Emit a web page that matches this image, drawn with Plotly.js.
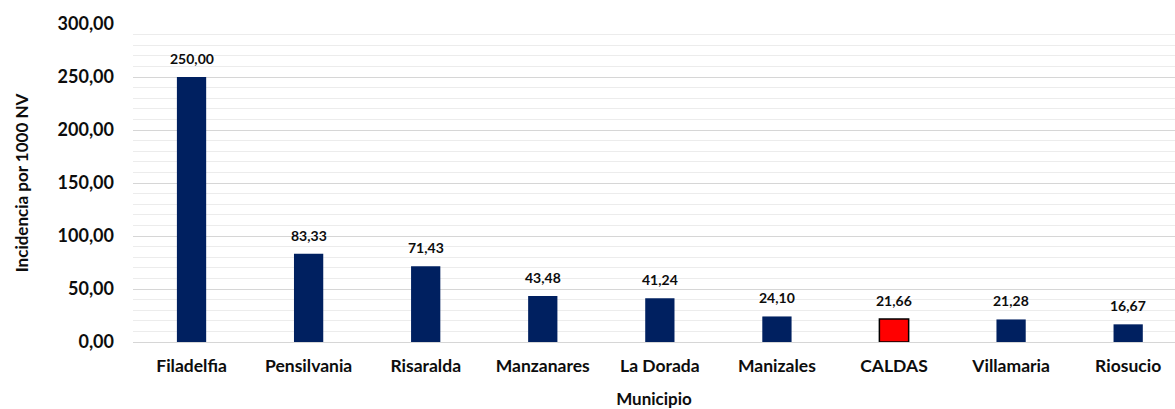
<!DOCTYPE html>
<html><head><meta charset="utf-8">
<script src="https://cdn.plot.ly/plotly-3.0.1.min.js"></script>
<style>html,body{margin:0;padding:0;background:#fff}#chart{width:1175px;height:409px}</style>
</head><body><div id="chart"></div>
<script>
const municipios = ["Filadelfia","Pensilvania","Risaralda","Manzanares","La Dorada","Manizales","CALDAS","Villamaria","Riosucio"];
const incidencia = [250.00, 83.33, 71.43, 43.48, 41.24, 24.10, 21.66, 21.28, 16.67];
const highlight = "CALDAS";

const FONT = "Lato, 'Liberation Sans', sans-serif";
const TXT = "#0d0d0d";
const colors = municipios.map(m => m === highlight ? "#ff0000" : "#002060");
const lineColors = municipios.map(m => m === highlight ? "#000000" : "#002060");
const lineWidths = municipios.map(m => m === highlight ? 1.5 : 0);

const trace = {
  type: "bar", x: municipios, y: incidencia, width: 0.25,
  marker: {color: colors, line: {color: lineColors, width: lineWidths}},
  hoverinfo: "none"
};
const annotations = municipios.map((m, i) => ({
  x: m, y: incidencia[i], xref: "x", yref: "y",
  text: incidencia[i].toFixed(2).replace(".", ","),
  showarrow: false, yanchor: "bottom", yshift: 8,
  font: {family: FONT, size: 14, color: TXT, weight: "bold"}
}));

const layout = {
  width: 1175, height: 409,
  margin: {l: 133, r: 0, t: 24, b: 67},
  paper_bgcolor: "#fff", plot_bgcolor: "#fff",
  separators: ",.",
  showlegend: false,
  font: {family: FONT, color: TXT},
  xaxis: {
    type: "category", range: [-0.5, 8.4],
    showgrid: false, showline: false, zeroline: false, ticks: "",
    tickfont: {family: FONT, size: 17.5, weight: "bold", color: TXT},
    ticklabelstandoff: 11,
    title: {text: "Municipio", font: {family: FONT, size: 17, weight: "bold", color: TXT}, standoff: 23},
    automargin: false
  },
  yaxis: {
    range: [0, 300], dtick: 50, tickformat: ".2f",
    showgrid: true, gridcolor: "#d6d6d6", gridwidth: 1,
    zeroline: true, zerolinecolor: "#d6d6d6", zerolinewidth: 1,
    minor: {dtick: 10, showgrid: true, gridcolor: "#ececec", gridwidth: 1},
    showline: false, ticks: "",
    tickfont: {family: FONT, size: 18, weight: "bold", color: TXT},
    ticklabelstandoff: 18,
    title: {text: "Incidencia por 1000 NV", font: {family: FONT, size: 17, weight: "bold", color: TXT}, standoff: 24},
    automargin: false
  },
  annotations: annotations
};
Plotly.newPlot("chart", [trace], layout, {displayModeBar: false, staticPlot: true});
</script></body></html>
